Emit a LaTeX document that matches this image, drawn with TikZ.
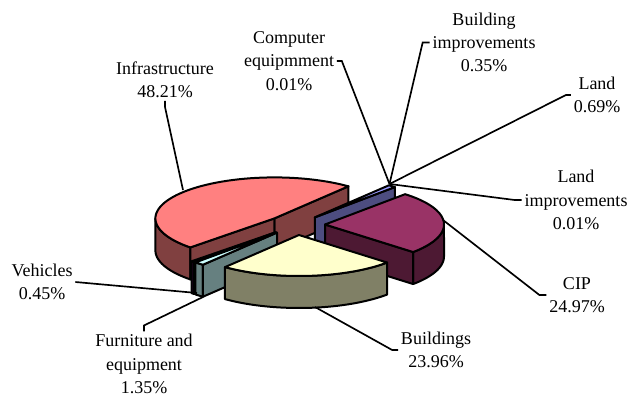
\documentclass[tikz,border=0pt]{standalone}
\usepackage{fontspec}
\setmainfont{Liberation Serif}
\usepackage{tikz}
\usetikzlibrary{positioning,calc}

\definecolor{infratop}{HTML}{FF8080}
\definecolor{infraside}{HTML}{804040}
\definecolor{ciptop}{HTML}{993366}
\definecolor{cipside}{HTML}{4D1933}
\definecolor{bldtop}{HTML}{FFFFCC}
\definecolor{bldside}{HTML}{808066}
\definecolor{furtop}{HTML}{CCFFFF}
\definecolor{furside}{HTML}{668080}
\definecolor{vehtop}{HTML}{660066}
\definecolor{vehside}{HTML}{330033}
\definecolor{bimptop}{HTML}{9999FF}
\definecolor{bimpside}{HTML}{4D4D80}

\begin{document}
\begin{tikzpicture}[x=0.6pt,y=-0.6pt,
 declare function={ex(\a)=119*cos(\a); ey(\a)=-41*sin(\a);},
 face/.style={draw=black,line width=1.2pt,line join=round},
 lbl/.style={align=center,inner sep=1.5pt,font=\fontsize{10.8}{14}\selectfont},
 leader/.style={draw=black,line width=1pt}]

\useasboundingbox (0,0) rectangle (628,399);

% Infrastructure
\begin{scope}[shift={(274.4,218.4)}]
 \draw[face,fill=infraside] plot[domain=180:225.06,samples=20] ({ex(\x)},{ey(\x)})
   -- plot[domain=225.06:180,samples=20] ({ex(\x)},{ey(\x)+32}) -- cycle;
 \draw[face,fill=infraside] (0,0) -- ({ex(51.5)},{ey(51.5)}) -- ++(0,32) -- (0,32) -- cycle;
 \draw[face,fill=infraside] (0,0) -- ({ex(225.06)},{ey(225.06)}) -- ++(0,32) -- (0,32) -- cycle;
 \draw[face,fill=infratop] (0,0) -- plot[domain=51.5:225.06,samples=60] ({ex(\x)},{ey(\x)}) -- cycle;
\end{scope}

% Computer, building improvements, land, land improvements
\begin{scope}[shift={(314.8,217.4)}]
 \draw[face,fill=bimpside] (0,0) -- ({ex(47.68)},{ey(47.68)}) -- ++(0,32) -- (0,32) -- cycle;
 \draw[face,fill=bimptop] (0,0) -- plot[domain=47.68:51.5,samples=5] ({ex(\x)},{ey(\x)}) -- cycle;
\end{scope}

% CIP
\begin{scope}[shift={(325,224.5)}]
 \draw[face,fill=cipside] plot[domain=-42.21:0,samples=20] ({ex(\x)},{ey(\x)})
   -- plot[domain=0:-42.21,samples=20] ({ex(\x)},{ey(\x)+32}) -- cycle;
 \draw[face,fill=cipside] (0,0) -- ({ex(-42.21)},{ey(-42.21)}) -- ++(0,32) -- (0,32) -- cycle;
 \draw[face,fill=ciptop] (0,0) -- plot[domain=-42.21:47.68,samples=40] ({ex(\x)},{ey(\x)}) -- cycle;
\end{scope}

% Vehicles
\begin{scope}[shift={(275.8,232.2)}]
 \draw[face,fill=vehside] plot[domain=-134.94:-133.32,samples=3] ({ex(\x)},{ey(\x)})
   -- plot[domain=-133.32:-134.94,samples=3] ({ex(\x)},{ey(\x)+32}) -- cycle;
 \draw[face,fill=vehside] (0,0) -- ({ex(-133.32)},{ey(-133.32)}) -- ++(0,32) -- (0,32) -- cycle;
 \draw[face,fill=vehtop] (0,0) -- plot[domain=-134.94:-133.32,samples=3] ({ex(\x)},{ey(\x)}) -- cycle;
\end{scope}

% Furniture and equipment
\begin{scope}[shift={(277,232.6)}]
 \draw[face,fill=furside] plot[domain=-133.32:-128.46,samples=5] ({ex(\x)},{ey(\x)})
   -- plot[domain=-128.46:-133.32,samples=5] ({ex(\x)},{ey(\x)+32}) -- cycle;
 \draw[face,fill=furside] (0,0) -- ({ex(-128.46)},{ey(-128.46)}) -- ++(0,32) -- (0,32) -- cycle;
 \draw[face,fill=furtop] (0,0) -- plot[domain=-133.32:-128.46,samples=5] ({ex(\x)},{ey(\x)}) -- cycle;
\end{scope}

% Buildings
\begin{scope}[shift={(299,235)}]
 \draw[face,fill=bldside] plot[domain=-128.46:-42.21,samples=40] ({ex(\x)},{ey(\x)})
   -- plot[domain=-42.21:-128.46,samples=40] ({ex(\x)},{ey(\x)+32}) -- cycle;
 \draw[face,fill=bldtop] (0,0) -- plot[domain=-128.46:-42.21,samples=40] ({ex(\x)},{ey(\x)}) -- cycle;
\end{scope}

% labels
\node[lbl] (infl) at (165,80) {Infrastructure\\48.21\%};
\node[lbl] (compl) at (289,61) {Computer\\equipmment\\0.01\%};
\node[lbl] (bimpl) at (484,42.5) {Building\\improvements\\0.35\%};
\node[lbl] (landl) at (597,95) {Land\\0.69\%};
\node[lbl] (limpl) at (576,200) {Land\\improvements\\0.01\%};
\node[lbl] (cipl) at (577,295) {CIP\\24.97\%};
\node[lbl] (bldl) at (436,350) {Buildings\\23.96\%};
\node[lbl] (furl) at (144,364) {Furniture and\\equipment\\1.35\%};
\node[lbl] (vehl) at (42,282) {Vehicles\\0.45\%};

\coordinate (smalltip) at (389.5,184);
\coordinate (inftip) at (183,190);
\coordinate (ciptip) at (443,220);
\coordinate (bldtip) at (315,307);
\coordinate (furtip) at (203,297);
\coordinate (vehtip) at (197,293);

\draw[leader] (infl.south) -- ++(0,6) -- (inftip);
\draw[leader] (compl.east) -- ++(5,0) -- (smalltip);
\draw[leader] (bimpl.west) -- ++(-7,0) -- (smalltip);
\draw[leader] (landl.west) -- ++(-5,0) -- (smalltip);
\draw[leader] (limpl.west) -- ++(-7,0) -- (smalltip);
\draw[leader] (cipl.west) -- ++(-7,0) -- (ciptip);
\draw[leader] (bldl.west) -- ++(-6,0) -- (bldtip);
\draw[leader] (furl.north) -- ++(0,-6) -- (furtip);
\draw[leader] (vehl.east) -- (vehtip);
\end{tikzpicture}
\end{document}
